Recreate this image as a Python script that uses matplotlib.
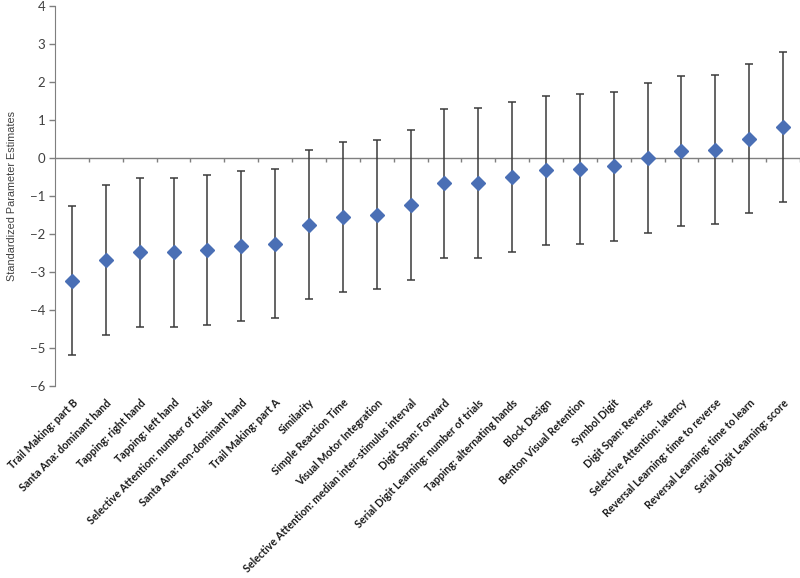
import numpy as np
import matplotlib
matplotlib.use("Agg")
import matplotlib.pyplot as plt

plt.rcParams['font.family'] = ['Lato', 'DejaVu Sans']

tests = [
    "Trail Making: part B", "Santa Ana: dominant hand", "Tapping: right hand",
    "Tapping: left hand", "Selective Attention: number of trials",
    "Santa Ana: non-dominant hand", "Trail Making: part A", "Similarity",
    "Simple Reaction Time", "Visual Motor Integration",
    "Selective Attention: median inter-stimulus interval", "Digit Span: Forward",
    "Serial Digit Learning: number of trials", "Tapping: alternating hands",
    "Block Design", "Benton Visual Retention", "Symbol Digit", "Digit Span: Reverse",
    "Selective Attention: latency", "Reversal Learning: time to reverse",
    "Reversal Learning: time to learn", "Serial Digit Learning: score",
]
estimate = [-3.23, -2.68, -2.48, -2.47, -2.43, -2.32, -2.25, -1.75, -1.56, -1.49,
            -1.23, -0.67, -0.65, -0.49, -0.32, -0.29, -0.21, 0.00, 0.19, 0.22,
            0.51, 0.82]
upper = [-1.26, -0.72, -0.52, -0.52, -0.46, -0.35, -0.29, 0.21, 0.41, 0.48,
         0.73, 1.30, 1.31, 1.47, 1.64, 1.68, 1.75, 1.97, 2.16, 2.18, 2.48, 2.79]
lower = [-5.19, -4.65, -4.45, -4.45, -4.40, -4.28, -4.22, -3.72, -3.53, -3.46,
         -3.20, -2.64, -2.63, -2.47, -2.29, -2.26, -2.19, -1.97, -1.78, -1.74,
         -1.45, -1.16]

est = np.array(estimate)
yerr = [est - np.array(lower), np.array(upper) - est]
x = np.arange(len(tests))

fig = plt.figure(figsize=(8, 5.78), dpi=100)
ax = fig.add_axes([55 / 800, 1 - 386 / 578, 745 / 800, 380 / 578])

ax.errorbar(x, est, yerr=yerr, fmt='D', color='#4a6fb5', markersize=7.2,
            ecolor='#3a3a3a', elinewidth=1.1, capsize=3, capthick=1.1, zorder=3)

ax.set_xlim(-0.5, len(tests) - 0.5)
ax.set_ylim(-6, 4)
ax.set_yticks(np.arange(-6, 5, 1))
ax.tick_params(axis='y', direction='out', length=4, width=1, color='#7f7f7f',
               labelsize=9.5, labelcolor='#404040', pad=3)
ax.set_ylabel("Standardized Parameter Estimates", fontsize=7.8, color='#404040',
              family='Liberation Sans', labelpad=9)

for s in ['top', 'right']:
    ax.spines[s].set_visible(False)
ax.spines['left'].set_color('#7f7f7f')
ax.spines['bottom'].set_visible(False)

# category labels below the plot area
ax.set_xticks(x)
ax.set_xticklabels(tests, rotation=45, ha='right', rotation_mode='anchor',
                   fontsize=7.7, fontweight='bold', color='#1a1a1a')
ax.tick_params(axis='x', length=0, pad=8)

# horizontal category axis at zero, ticks between categories pointing down
ax.axhline(0, color='#7f7f7f', lw=1, zorder=1)
bounds = np.arange(len(tests) + 1) - 0.5
ax.vlines(bounds[1:], -0.11, 0, color='#7f7f7f', lw=1, zorder=1)

fig.savefig("out.png", dpi=100)
